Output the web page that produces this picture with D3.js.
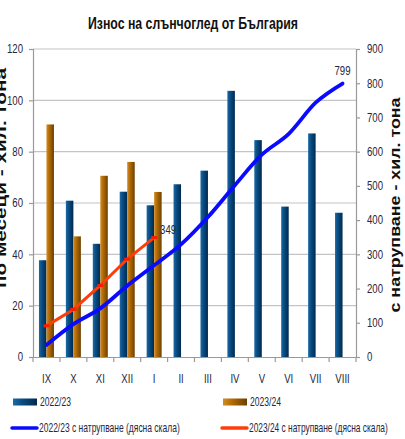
<!DOCTYPE html>
<html>
<head>
<meta charset="utf-8">
<script src="https://cdn.jsdelivr.net/npm/d3@7"></script>
<style>
  body { margin: 0; background: #fff; }
  svg { display: block; }
  text { font-family: "Liberation Sans", Arial, sans-serif; fill: #262640; }
  .bold { font-weight: bold; fill: #111; }
</style>
</head>
<body>
<div id="chart"></div>
<script>
// месеци на маркетинговата година
const months = ['IX', 'X', 'XI', 'XII', 'I', 'II', 'III', 'IV', 'V', 'VI', 'VII', 'VIII'];

// износ по месеци, хил. тона
const exp2223 = [37.7, 60.9, 44.1, 64.4, 59.1, 67.3, 72.6, 103.7, 84.5, 58.6, 87.1, 56.2];
const exp2324 = [90.6, 47.0, 70.6, 76.0, 64.3];

// с натрупване, хил. тона (дясна скала)
const cum2223 = [35, 96, 142, 208, 268, 329, 409, 502, 591, 652, 743, 799];
const cum2324 = [91, 139, 209, 286, 349];

const leftTicks = [0, 20, 40, 60, 80, 100, 120];
const rightTicks = [0, 100, 200, 300, 400, 500, 600, 700, 800, 900];

const width = 405, height = 439;
const margin = {top: 49, right: 49, bottom: 82, left: 33};

// тесен шрифт няма, затова свиваме текста хоризонтално
const narrow = (sel, origin, k) => sel
  .style('transform-box', 'fill-box')
  .style('transform-origin', origin + ' center')
  .style('transform', 'scaleX(' + (k || 0.8) + ')')

const svg = d3.select('#chart').append('svg')
  .attr('width', width)
  .attr('height', height)

const defs = svg.append('defs')

const grad = (id, stops) => {
  const g = defs.append('linearGradient').attr('id', id)
    .attr('x1', 0).attr('x2', 1).attr('y1', 0).attr('y2', 0)
  stops.forEach(s => g.append('stop').attr('offset', s[0]).attr('stop-color', s[1]))
}
grad('gBlue', [[0, '#1b6aa6'], [0.35, '#0a4f85'], [1, '#00294f']])
grad('gOrange', [[0, '#d18c26'], [0.35, '#b56d05'], [1, '#6b3f00']])

const x = d3.scaleBand()
  .domain(months)
  .range([margin.left, width - margin.right])

const yL = d3.scaleLinear()
  .domain([0, 120])
  .range([height - margin.bottom, margin.top])

const yR = d3.scaleLinear()
  .domain([0, 900])
  .range([height - margin.bottom, margin.top])

const barW = 7.5
const cx = (m) => x(m) + x.bandwidth() / 2

// решетка
svg.append('g')
  .selectAll('line')
  .data(leftTicks.slice(1))
  .enter().append('line')
  .attr('x1', margin.left).attr('x2', width - margin.right)
  .attr('y1', d => yL(d)).attr('y2', d => yL(d))
  .attr('stroke', '#c4c4c4').attr('stroke-width', 1.2)

// оси
const axL = svg.append('g')
  .attr('transform', 'translate(' + margin.left + ',0)')
  .call(d3.axisLeft(yL).tickValues(leftTicks).tickSize(4).tickPadding(6))
const axR = svg.append('g')
  .attr('transform', 'translate(' + (width - margin.right) + ',0)')
  .call(d3.axisRight(yR).tickValues(rightTicks).tickSize(4).tickPadding(7))
const axB = svg.append('g')
  .attr('transform', 'translate(0,' + (height - margin.bottom) + ')')
  .call(d3.axisBottom(x).tickSize(0).tickPadding(17))

;[axL, axR, axB].forEach(a => {
  a.select('.domain').attr('stroke', '#9a9a9a').attr('stroke-width', 1.2)
  a.selectAll('.tick line').attr('stroke', '#9a9a9a').attr('stroke-width', 1.2)
  a.selectAll('text').attr('font-size', 12).attr('fill', '#262640')
    .attr('font-family', '"Liberation Sans", Arial, sans-serif')
})
narrow(axL.selectAll('text'), 'right')
narrow(axR.selectAll('text'), 'left')
narrow(axB.selectAll('text'), 'center')

// тикове между категориите
svg.append('g')
  .selectAll('line')
  .data(months.concat(['end']))
  .enter().append('line')
  .attr('x1', (d, i) => margin.left + i * x.bandwidth())
  .attr('x2', (d, i) => margin.left + i * x.bandwidth())
  .attr('y1', height - margin.bottom)
  .attr('y2', height - margin.bottom + 5)
  .attr('stroke', '#9a9a9a').attr('stroke-width', 1.2)

// колони
svg.append('g')
  .selectAll('rect')
  .data(exp2223)
  .enter().append('rect')
  .attr('x', (d, i) => cx(months[i]) - barW)
  .attr('y', d => yL(d))
  .attr('width', barW)
  .attr('height', d => yL(0) - yL(d))
  .attr('fill', 'url(#gBlue)')

svg.append('g')
  .selectAll('rect')
  .data(exp2324)
  .enter().append('rect')
  .attr('x', (d, i) => cx(months[i]))
  .attr('y', d => yL(d))
  .attr('width', barW)
  .attr('height', d => yL(0) - yL(d))
  .attr('fill', 'url(#gOrange)')

// линии с натрупване
const lineBlue = d3.line()
  .x((d, i) => cx(months[i]))
  .y(d => yR(d))
  .curve(d3.curveMonotoneX)

svg.append('path')
  .datum(cum2223)
  .attr('d', lineBlue)
  .attr('fill', 'none')
  .attr('stroke', '#0a0aff')
  .attr('stroke-width', 3.8)
  .attr('stroke-linecap', 'round')

const lineRed = d3.line()
  .x((d, i) => cx(months[i]))
  .y(d => yR(d))

svg.append('path')
  .datum(cum2324)
  .attr('d', lineRed)
  .attr('fill', 'none')
  .attr('stroke', '#ff3d0a')
  .attr('stroke-width', 3)

svg.append('g')
  .selectAll('rect')
  .data(cum2324)
  .enter().append('rect')
  .attr('x', (d, i) => cx(months[i]) - 3)
  .attr('y', d => yR(d) - 1.5)
  .attr('width', 6)
  .attr('height', 3)
  .attr('fill', '#ff1a00')

// етикети на последните стойности
const lastR = cum2324.length - 1
narrow(svg.append('text')
  .attr('x', cx(months[lastR]) + 6)
  .attr('y', yR(cum2324[lastR]) - 4)
  .attr('font-size', 12)
  .text(cum2324[lastR]), 'left')

const lastB = cum2223.length - 1
narrow(svg.append('text')
  .attr('x', cx(months[lastB]))
  .attr('y', yR(cum2223[lastB]) - 9)
  .attr('text-anchor', 'middle')
  .attr('font-size', 12)
  .text(cum2223[lastB]), 'center')

// заглавия
svg.append('text')
  .attr('class', 'bold')
  .attr('x', 193).attr('y', 29)
  .attr('text-anchor', 'middle')
  .attr('font-size', 16)
  .attr('textLength', 210)
  .attr('lengthAdjust', 'spacingAndGlyphs')
  .text('Износ на слънчоглед от България')

svg.append('text')
  .attr('class', 'bold')
  .attr('transform', 'translate(6,' + 178 + ') rotate(-90)')
  .attr('text-anchor', 'middle')
  .attr('font-size', 14)
  .attr('textLength', 220)
  .attr('lengthAdjust', 'spacingAndGlyphs')
  .text('по месеци - хил. тона')

svg.append('text')
  .attr('class', 'bold')
  .attr('transform', 'translate(400,' + 205 + ') rotate(-90)')
  .attr('text-anchor', 'middle')
  .attr('font-size', 14)
  .attr('textLength', 215)
  .attr('lengthAdjust', 'spacingAndGlyphs')
  .text('с натрупване - хил. тона')

// легенда
const legend = [
  {label: '2022/23', type: 'bar', fill: 'url(#gBlue)', lx: 13, ly: 402, w: 31},
  {label: '2023/24', type: 'bar', fill: 'url(#gOrange)', lx: 223, ly: 402, w: 31},
  {label: '2022/23 с натрупване (дясна скала)', type: 'line', fill: '#0a0aff', lx: 12, ly: 428, w: 141},
  {label: '2023/24 с натрупване (дясна скала)', type: 'line', fill: '#ff3d0a', lx: 222, ly: 428, w: 139}
]

const lg = svg.append('g').selectAll('g')
  .data(legend)
  .enter().append('g')
  .attr('transform', d => 'translate(' + d.lx + ',' + d.ly + ')')

lg.filter(d => d.type === 'bar').append('rect')
  .attr('x', 0).attr('y', -3.5).attr('width', 24).attr('height', 7)
  .attr('fill', d => d.fill)

lg.filter(d => d.type === 'line').append('line')
  .attr('x1', 0).attr('x2', 25).attr('y1', 0).attr('y2', 0)
  .attr('stroke', d => d.fill).attr('stroke-width', 3.5)
  .attr('stroke-linecap', 'round')

lg.append('text')
  .attr('x', 27)
  .attr('dy', '0.35em')
  .attr('font-size', 12)
  .text(d => d.label)
  .each(function (d) {
    narrow(d3.select(this), 'left', d.w / this.getComputedTextLength())
  })
</script>
</body>
</html>
